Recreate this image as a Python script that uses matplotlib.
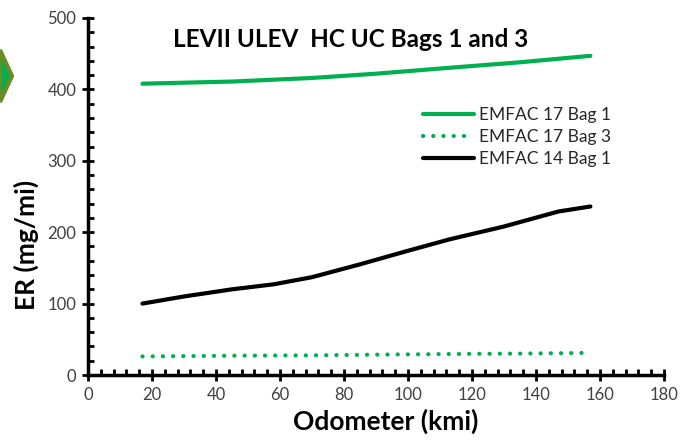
import matplotlib
matplotlib.use("Agg")
import matplotlib.pyplot as plt
from matplotlib.ticker import MultipleLocator
from matplotlib.patches import Polygon

# Data
x_e17_bag1 = [17, 45, 70, 90, 115, 135, 157]
y_e17_bag1 = [408, 411, 416, 422, 431, 438, 447]

x_e17_bag3 = [17, 45, 70, 90, 115, 135, 157]
y_e17_bag3 = [26, 27, 27.5, 28.5, 29.5, 30, 31]

x_e14_bag1 = [17, 30, 45, 58, 70, 85, 100, 113, 130, 147, 157]
y_e14_bag1 = [100, 110, 120, 127, 137, 155, 174, 190, 208, 229, 236]

labels = ["EMFAC 17 Bag 1", "EMFAC 17 Bag 3", "EMFAC 14 Bag 1"]
title = "LEVII ULEV  HC UC Bags 1 and 3"

plt.rcParams['font.family'] = ['Lato', 'DejaVu Sans']

fig = plt.figure(figsize=(6.82, 4.47), dpi=100)
ax = fig.add_axes([88/682, (447-375)/447, (664-88)/682, (375-18)/447])

green = '#00B050'
ax.plot(x_e17_bag1, y_e17_bag1, color=green, lw=3, label=labels[0], solid_capstyle='round')
ax.plot(x_e17_bag3, y_e17_bag3, color=green, lw=3, linestyle=(0, (0.05, 2.4)),
        dash_capstyle='round', label=labels[1])
ax.plot(x_e14_bag1, y_e14_bag1, color='black', lw=3, label=labels[2], solid_capstyle='round')

ax.set_xlim(0, 180)
ax.set_ylim(0, 500)
ax.xaxis.set_major_locator(MultipleLocator(20))
ax.xaxis.set_minor_locator(MultipleLocator(4))
ax.yaxis.set_major_locator(MultipleLocator(100))
ax.yaxis.set_minor_locator(MultipleLocator(20))

for s in ['top', 'right']:
    ax.spines[s].set_visible(False)
for s in ['left', 'bottom']:
    ax.spines[s].set_linewidth(2.5)
    ax.spines[s].set_color('black')

ax.tick_params(which='major', direction='inout', length=9, width=2, color='black',
               labelsize=12, labelcolor='#404040', pad=4)
ax.tick_params(which='minor', direction='in', length=4, width=2, color='black')

ax.set_xlabel("Odometer (kmi)", fontsize=19, fontweight='bold')
ax.set_ylabel("ER (mg/mi)", fontsize=19, fontweight='bold')
ax.xaxis.set_label_coords(0.517, -0.095)
ax.yaxis.set_label_coords(-0.085, 0.364)

ax.text(82, 470, title, fontsize=17.5, fontweight='bold', ha='center', va='center')

leg = ax.legend(loc='upper left', bbox_to_anchor=(0.57, 0.77), frameon=False,
                fontsize=12.5, handlelength=2.9, handletextpad=0.3, labelspacing=0.35,
                borderaxespad=0)
for t in leg.get_texts():
    t.set_color('#262626')

# slide decoration at the left edge
fig.patches.append(Polygon([[0, 1-50/447], [12/682, 1-76/447], [0, 1-102/447]],
                           closed=True, transform=fig.transFigure,
                           facecolor='#00B050', edgecolor='#6B8E23', lw=3, zorder=0))

fig.savefig("out.png", dpi=100)
